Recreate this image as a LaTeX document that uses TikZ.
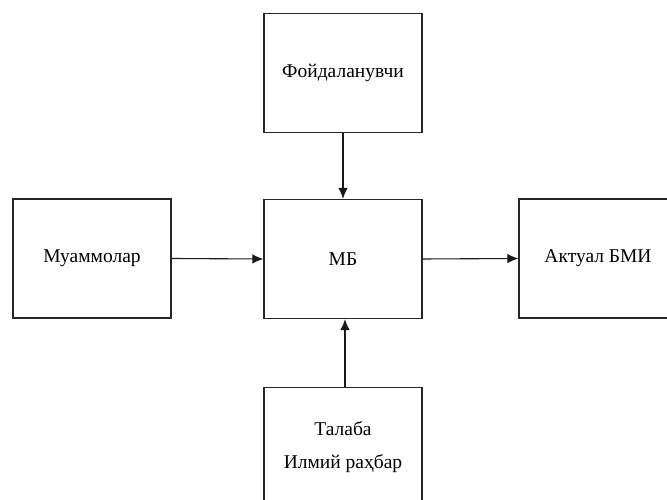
\documentclass[tikz,border=0pt]{standalone}
\usepackage{fontspec}
\setmainfont{Liberation Serif}
\usetikzlibrary{arrows.meta}
\begin{document}
\begin{tikzpicture}[x=1pt,y=1pt,
  blk/.style={draw=black!85, line width=1.2pt, minimum width=158pt, minimum height=119pt, inner sep=0pt, font=\fontsize{19.5}{33}\selectfont, align=center},
  conn/.style={draw=black!90, line width=1.1pt, -{Latex[length=11pt,width=9.5pt]}}]
\useasboundingbox (0,0) rectangle (667,500);
\begin{scope}
\clip (0,0) rectangle (667,500);
\node[blk] (user) at (343,427) {Фойдаланувчи};
\node[blk] (prob) at (92,241.5) {Муаммолар};
\node[blk] (mb) at (343,241) {МБ};
\node[blk] (bmi) at (598,241.5) {Актуал БМИ};
\node[blk, anchor=north] (stud) at (343,113) {Талаба\\Илмий раҳбар};
\end{scope}
\draw[conn] (user.south) -- (mb.north);
\draw[conn] (stud.north -| mb.south) ++(2,0) coordinate (sb) -- (sb |- mb.south);
\draw[conn] (prob.east) -- (mb.west);
\draw[conn] (mb.east) -- (bmi.west);
\end{tikzpicture}
\end{document}
